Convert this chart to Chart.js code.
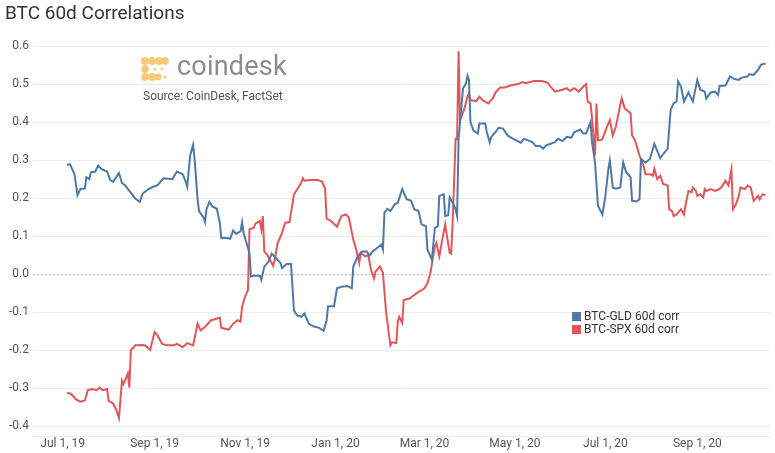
<!DOCTYPE html>
<html>
<head>
<meta charset="utf-8">
<title>BTC 60d Correlations</title>
<script src="https://cdn.jsdelivr.net/npm/chart.js@4.4.0/dist/chart.umd.min.js"></script>
<style>
  html, body { margin: 0; padding: 0; background: #fff; }
  #wrap { position: relative; width: 775px; height: 453px; font-family: Roboto, "Liberation Sans", sans-serif; }
  #chart { position: absolute; left: 0; top: 0; }
  .logo { position: absolute; left: 140px; top: 55px; }
  .logo-word { position: absolute; left: 177px; top: 50px; font-size: 27px; color: #8c8c8c; letter-spacing: 0.2px; }
  .source { position: absolute; left: 143px; top: 89px; font-size: 12px; color: #555; }
  .legend { position: absolute; left: 572px; top: 310px; font-size: 12px; color: #333; line-height: 12.5px; }
  .legend span.box { display: inline-block; width: 9px; height: 9px; margin-right: 3px; vertical-align: -1px; }
</style>
</head>
<body>
<div id="wrap">
  <canvas id="chart" width="775" height="453"></canvas>
  <svg class="logo" width="32" height="30" viewBox="0 0 32 30">
    <g fill="#f6ca7a">
      <circle cx="5" cy="6" r="3.9"/>
      <circle cx="12" cy="6" r="3.9"/>
      <circle cx="19" cy="6" r="3.9"/>
      <circle cx="25" cy="6" r="3.9"/>
      <circle cx="5" cy="14" r="3.9"/>
      <circle cx="5" cy="22" r="3.9"/>
      <circle cx="12" cy="22" r="3.9"/>
      <circle cx="18" cy="22" r="3.6"/>
      <circle cx="15" cy="14" r="1.5"/>
      <circle cx="22" cy="14" r="1.5"/>
      <circle cx="25" cy="22" r="1.5"/>
    </g>
  </svg>
  <div class="logo-word">coindesk</div>
  <div class="source">Source: CoinDesk, FactSet</div>
  <div class="legend" id="legend"></div>
</div>
<script>
// x values are days since Jul 1, 2019
const tickDays = [0, 62, 123, 184, 244, 305, 366, 428];
const tickLabels = ["Jul 1, 19", "Sep 1, 19", "Nov 1, 19", "Jan 1, 20", "Mar 1, 20", "May 1, 20", "Jul 1, 20", "Sep 1, 20"];
const yTicks = [-0.4, -0.3, -0.2, -0.1, 0, 0.1, 0.2, 0.3, 0.4, 0.5, 0.6];

const gldDays = [3, 5, 8, 10, 12, 15, 16, 18, 19, 22, 24, 26, 30, 32, 34, 38, 40, 42, 45, 49, 52, 54, 58, 60, 64, 68, 74, 77, 81, 83, 84, 86, 88, 89, 91, 92, 95, 96, 97, 99, 101, 104, 106, 107, 111, 113, 115, 117, 120, 121, 122, 124, 126, 127, 129, 133, 134, 136, 139, 141, 144, 147, 148, 151, 154, 156, 158, 161, 163, 166, 169, 173, 176, 178, 179, 183, 185, 188, 192, 195, 196, 199, 202, 205, 207, 209, 212, 215, 216, 217, 219, 221, 224, 226, 229, 232, 235, 237, 240, 242, 245, 246, 249, 251, 253, 254, 257, 258, 260, 261, 263, 265, 266, 267, 268, 270, 272, 273, 274, 275, 277, 280, 281, 285, 286, 288, 289, 292, 294, 297, 300, 303, 305, 309, 311, 314, 317, 319, 322, 324, 326, 329, 332, 334, 337, 340, 343, 345, 348, 349, 351, 353, 356, 357, 359, 361, 364, 366, 368, 369, 371, 373, 376, 378, 380, 383, 384, 387, 389, 390, 393, 396, 399, 403, 405, 408, 410, 412, 414, 415, 417, 419, 422, 425, 428, 430, 433, 434, 437, 440, 442, 443, 447, 450, 453, 456, 458, 462, 463, 466, 469, 471, 474];
const gldCorr = [0.287, 0.289, 0.263, 0.208, 0.224, 0.225, 0.255, 0.25, 0.268, 0.27, 0.286, 0.277, 0.27, 0.248, 0.243, 0.266, 0.24, 0.234, 0.219, 0.199, 0.19, 0.212, 0.224, 0.228, 0.234, 0.252, 0.25, 0.27, 0.263, 0.243, 0.23, 0.312, 0.34, 0.303, 0.197, 0.166, 0.149, 0.137, 0.171, 0.19, 0.178, 0.172, 0.135, 0.095, 0.095, 0.093, 0.115, 0.106, 0.113, 0.137, 0.109, 0.082, 0.056, -0.006, -0.004, -0.004, -0.015, 0.02, 0.034, 0.054, 0.042, 0.029, 0.016, 0.027, 0.027, -0.095, -0.108, -0.112, -0.103, -0.13, -0.137, -0.141, -0.149, -0.121, -0.084, -0.084, -0.037, -0.033, -0.031, -0.037, 0.02, 0.047, 0.06, 0.06, 0.049, 0.06, 0.069, 0.078, 0.065, 0.162, 0.172, 0.166, 0.184, 0.188, 0.224, 0.197, 0.193, 0.171, 0.166, 0.131, 0.126, 0.065, 0.038, 0.122, 0.126, 0.206, 0.21, 0.153, 0.155, 0.202, 0.188, 0.171, 0.153, 0.356, 0.4, 0.489, 0.502, 0.522, 0.511, 0.4, 0.378, 0.37, 0.396, 0.396, 0.374, 0.347, 0.361, 0.374, 0.385, 0.383, 0.365, 0.358, 0.354, 0.346, 0.356, 0.352, 0.347, 0.337, 0.337, 0.33, 0.339, 0.343, 0.347, 0.356, 0.35, 0.361, 0.359, 0.374, 0.378, 0.381, 0.37, 0.37, 0.4, 0.347, 0.294, 0.18, 0.157, 0.206, 0.277, 0.299, 0.228, 0.225, 0.228, 0.294, 0.268, 0.255, 0.193, 0.191, 0.197, 0.303, 0.293, 0.303, 0.343, 0.305, 0.316, 0.33, 0.432, 0.449, 0.454, 0.507, 0.493, 0.454, 0.478, 0.454, 0.511, 0.485, 0.48, 0.462, 0.478, 0.48, 0.471, 0.495, 0.496, 0.52, 0.513, 0.511, 0.517, 0.52, 0.526, 0.524, 0.538, 0.551, 0.554];

const spxDays = [3, 6, 9, 12, 15, 17, 20, 23, 25, 27, 30, 31, 34, 36, 38, 40, 41, 44, 45, 46, 49, 54, 56, 59, 62, 64, 67, 70, 75, 77, 81, 84, 88, 91, 93, 96, 100, 102, 106, 107, 112, 115, 118, 120, 121, 123, 125, 126, 129, 130, 133, 134, 135, 136, 138, 140, 142, 143, 145, 148, 150, 153, 156, 158, 161, 162, 163, 167, 172, 175, 177, 178, 181, 185, 188, 191, 193, 196, 198, 200, 201, 204, 206, 208, 210, 211, 214, 216, 218, 221, 222, 225, 226, 227, 229, 230, 234, 236, 239, 242, 244, 246, 248, 251, 252, 254, 256, 258, 259, 261, 262, 263, 265, 266, 267, 268, 271, 273, 274, 275, 279, 281, 283, 287, 290, 292, 295, 298, 302, 307, 310, 312, 318, 323, 327, 329, 332, 337, 340, 342, 345, 348, 351, 353, 354, 356, 357, 359, 360, 361, 362, 364, 367, 369, 371, 373, 376, 377, 379, 383, 384, 386, 389, 392, 393, 396, 398, 399, 401, 403, 405, 408, 409, 411, 412, 414, 417, 419, 420, 422, 424, 425, 427, 428, 430, 432, 433, 434, 437, 440, 443, 445, 447, 449, 451, 452, 454, 456, 457, 460, 462, 464, 466, 469, 470, 472, 474];
const spxCorr = [-0.311, -0.316, -0.329, -0.335, -0.332, -0.305, -0.302, -0.305, -0.298, -0.305, -0.302, -0.333, -0.34, -0.355, -0.378, -0.28, -0.289, -0.261, -0.298, -0.2, -0.187, -0.186, -0.188, -0.199, -0.152, -0.161, -0.183, -0.187, -0.187, -0.183, -0.192, -0.181, -0.187, -0.13, -0.148, -0.139, -0.121, -0.119, -0.114, -0.141, -0.146, -0.13, -0.121, -0.125, -0.086, -0.059, -0.042, 0.118, 0.122, 0.133, 0.14, 0.118, 0.153, 0.06, 0.051, 0.036, 0.022, 0.038, 0.082, 0.109, 0.135, 0.137, 0.21, 0.222, 0.241, 0.252, 0.246, 0.248, 0.248, 0.243, 0.225, 0.146, 0.14, 0.125, 0.153, 0.157, 0.149, 0.091, 0.065, 0.029, 0.056, 0.047, 0.051, 0.011, -0.011, 0.007, 0.02, 0.003, -0.095, -0.187, -0.179, -0.181, -0.125, -0.112, -0.128, -0.068, -0.064, -0.058, -0.049, -0.042, -0.037, -0.024, 0.003, 0.073, 0.082, 0.047, 0.091, 0.131, 0.104, 0.056, 0.054, 0.135, 0.356, 0.355, 0.586, 0.405, 0.436, 0.467, 0.476, 0.458, 0.455, 0.467, 0.458, 0.449, 0.462, 0.478, 0.491, 0.491, 0.496, 0.5, 0.505, 0.502, 0.508, 0.508, 0.504, 0.493, 0.48, 0.485, 0.489, 0.482, 0.489, 0.48, 0.493, 0.5, 0.454, 0.449, 0.41, 0.312, 0.449, 0.352, 0.352, 0.355, 0.387, 0.405, 0.365, 0.387, 0.445, 0.462, 0.436, 0.423, 0.365, 0.352, 0.312, 0.281, 0.263, 0.263, 0.259, 0.277, 0.25, 0.259, 0.237, 0.233, 0.171, 0.166, 0.153, 0.157, 0.171, 0.157, 0.18, 0.219, 0.215, 0.228, 0.219, 0.206, 0.21, 0.202, 0.224, 0.219, 0.224, 0.219, 0.224, 0.233, 0.246, 0.233, 0.275, 0.171, 0.184, 0.206, 0.228, 0.224, 0.233, 0.228, 0.193, 0.206, 0.197, 0.21, 0.208];

const seriesNames = ["BTC-GLD 60d corr", "BTC-SPX 60d corr"];
const seriesColors = ["#4e79a7", "#e15759"];

function toPoints(days, vals) {
  return days.map((d, i) => ({ x: d, y: vals[i] }));
}

// dashed zero line
const zeroLine = {
  id: "zeroLine",
  beforeDatasetsDraw(chart) {
    const { ctx, chartArea, scales } = chart;
    const y = Math.round(scales.y.getPixelForValue(0)) + 0.5;
    ctx.save();
    ctx.strokeStyle = "#c8c8c8";
    ctx.lineWidth = 1;
    ctx.setLineDash([2, 2]);
    ctx.beginPath();
    ctx.moveTo(chartArea.left, y);
    ctx.lineTo(chartArea.right, y);
    ctx.stroke();
    ctx.restore();
  },
};

const chart = new Chart(document.getElementById("chart"), {
  type: "line",
  data: {
    datasets: [
      {
        label: seriesNames[0],
        data: toPoints(gldDays, gldCorr),
        borderColor: seriesColors[0],
        backgroundColor: seriesColors[0],
        borderWidth: 2,
        pointRadius: 0,
        tension: 0,
      },
      {
        label: seriesNames[1],
        data: toPoints(spxDays, spxCorr),
        borderColor: seriesColors[1],
        backgroundColor: seriesColors[1],
        borderWidth: 2,
        pointRadius: 0,
        tension: 0,
      },
    ],
  },
  options: {
    responsive: false,
    animation: false,
    layout: { padding: { left: 5, right: 5, top: 0, bottom: 2 } },
    plugins: {
      legend: { display: false },
      tooltip: { enabled: false },
      title: {
        display: true,
        text: "BTC 60d Correlations",
        align: "start",
        color: "#333",
        font: { family: "Roboto, 'Liberation Sans', sans-serif", size: 19, weight: "normal" },
        padding: { top: 3, bottom: 5 },
      },
    },
    scales: {
      x: {
        type: "linear",
        min: -20,
        max: 477,
        afterBuildTicks(scale) {
          scale.ticks = tickDays.map((v) => ({ value: v }));
        },
        ticks: {
          autoSkip: false,
          maxRotation: 0,
          color: "#555",
          padding: 0,
          font: { family: "Roboto, 'Liberation Sans', sans-serif", size: 12 },
          callback: (v) => tickLabels[tickDays.indexOf(v)],
        },
        grid: { display: false, drawTicks: false },
        border: { display: true, color: "#ececec" },
      },
      y: {
        min: -0.427,
        max: 0.64,
        afterBuildTicks(scale) {
          scale.ticks = yTicks.map((v) => ({ value: v }));
        },
        ticks: {
          color: "#555",
          padding: 4,
          font: { family: "Roboto, 'Liberation Sans', sans-serif", size: 12 },
          callback: (v) => (Math.abs(v) < 1e-9 ? "0.0" : v.toFixed(1)),
        },
        grid: {
          drawTicks: false,
          color: (c) => (c.tick && Math.abs(c.tick.value) < 1e-9 ? "rgba(0,0,0,0)" : "#ececec"),
        },
        border: { display: false },
      },
    },
  },
  plugins: [zeroLine],
});

// legend
let legendHtml = "";
seriesNames.forEach((name, i) => {
  legendHtml += `<div><span class="box" style="background:${seriesColors[i]}"></span>${name}</div>`;
});
document.getElementById("legend").innerHTML = legendHtml;
</script>
</body>
</html>
